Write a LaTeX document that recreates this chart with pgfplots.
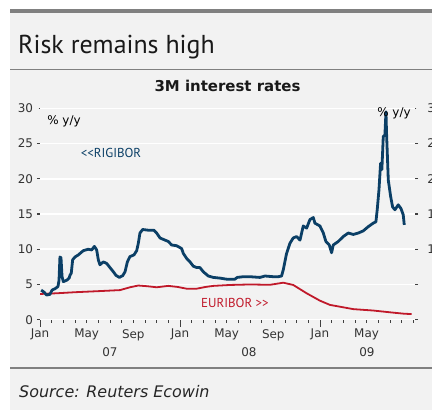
\documentclass[border=0pt]{standalone}
\usepackage{pgfplots}
\pgfplotsset{compat=1.18}
\usepackage{fontspec}
\setmainfont{PT Sans}
\newfontfamily\dejavu{DejaVu Sans}
\definecolor{bg}{HTML}{F2F2F2}
\definecolor{band}{HTML}{808080}
\definecolor{rigi}{HTML}{0B3F66}
\definecolor{euri}{HTML}{C0192A}
\definecolor{tickc}{HTML}{404040}
\pgfplotstableread{
m v
0.1 4.2
0.35 3.9
0.57 3.5
0.86 3.6
1.03 4.2
1.29 4.4
1.54 4.7
1.63 5.6
1.71 8.9
1.8 8.8
1.89 6.1
2.0 5.4
2.29 5.6
2.5 5.9
2.57 6.3
2.68 6.6
2.8 8.5
3.0 8.9
3.29 9.2
3.71 9.8
4.14 10.0
4.43 9.9
4.66 10.4
4.86 9.9
5.0 8.5
5.14 7.8
5.43 8.2
5.71 8.0
6.0 7.4
6.29 6.8
6.51 6.3
6.8 6.0
7.09 6.25
7.29 6.8
7.49 8.2
7.71 8.95
8.06 9.2
8.29 9.8
8.43 10.85
8.57 12.3
8.8 12.8
9.29 12.7
9.77 12.7
10.0 12.3
10.29 11.6
10.71 11.3
11.0 11.1
11.29 10.6
11.71 10.5
12.14 10.1
12.29 9.4
12.57 8.7
12.86 8.2
13.14 7.6
13.43 7.4
13.71 7.4
14.0 6.8
14.43 6.2
14.86 6.0
15.43 5.9
16.0 5.75
16.71 5.75
16.91 6.0
17.43 6.1
18.0 6.1
18.86 6.0
19.29 6.2
20.0 6.1
20.43 6.1
20.71 6.2
20.86 7.1
21.14 9.4
21.43 10.85
21.71 11.6
22.0 11.8
22.29 11.3
22.57 13.3
22.86 13.0
23.14 14.2
23.43 14.5
23.57 13.7
24.0 13.3
24.29 12.3
24.51 11.1
24.8 10.6
25.0 9.5
25.14 10.6
25.57 11.1
26.0 11.8
26.43 12.3
26.86 12.1
27.29 12.3
27.71 12.6
28.14 13.2
28.57 13.7
28.8 13.9
28.91 15.6
29.06 18.4
29.2 22.2
29.31 21.3
29.43 26.0
29.57 26.2
29.66 29.5
29.71 26.5
29.86 19.8
30.06 17.5
30.23 16.0
30.43 15.6
30.71 16.3
30.94 15.8
31.14 14.9
31.23 13.45
}\rigibor
\pgfplotstableread{
m v
0 3.65
1.43 3.75
3 3.9
5 4.05
6.86 4.2
7.71 4.6
8.43 4.85
9.2 4.75
10 4.6
11 4.8
11.8 4.65
12.57 4.4
13.43 4.4
14.2 4.65
14.86 4.8
16.3 4.93
18 5.0
19.71 4.95
20.86 5.25
21.71 4.93
22.86 3.75
24 2.7
24.86 2.1
26.86 1.5
28.57 1.3
30.29 1.0
31.2 0.85
31.86 0.8
}\euribor
\begin{document}
\begin{tikzpicture}[x=1bp,y=1bp]
\fill[white] (0,0) rectangle (432,410);
\fill[bg] (10,0) rectangle (432,396.7);
\fill[band] (10,396.7) rectangle (432,401);
\node[anchor=base west, inner sep=0, font=\fontsize{26}{26}\selectfont, text=black!90] at (18,356.7) {Risk remains high};
\draw[band, line width=1bp] (10,340) -- (432,340);
\node[anchor=base, inner sep=0, font=\dejavu\fontsize{15}{15}\selectfont\bfseries, text=black!90] at (227.5,319) {3M interest rates};
\draw[band, line width=2bp] (10,42) -- (432,42);
\node[anchor=base west, inner sep=0, font=\dejavu\fontsize{16}{16}\selectfont\itshape, text=black!85] at (19,13) {Source: Reuters Ecowin};
\begin{axis}[
  at={(40bp,90.3bp)}, anchor=origin,
  width=375bp, height=211.4bp, scale only axis,
  xmin=0, xmax=32.15, ymin=0, ymax=30,
  axis x line*=bottom, axis y line*=left, axis line style={draw=none},
  xtick={0,4,...,28}, xticklabels={Jan,May,Sep,Jan,May,Sep,Jan,May},
  minor xtick={1,...,32},
  extra x ticks={0,12,24}, extra x tick labels={},
  extra x tick style={major tick length=7bp},
  ytick={0,5,...,30},
  tick align=outside, major tick length=3bp, minor tick length=3bp,
  every tick/.style={tickc, line width=0.8bp},
  y tick style={line width=1.4bp, shorten <=1.6bp},
  grid style={white, line width=1.5bp}, ymajorgrids,
  tick label style={font=\dejavu\fontsize{12}{12}\selectfont, text=black!80},
  /pgf/number format/assume math mode=true,
  yticklabel style={xshift=-0.5bp},
  xticklabel style={yshift=-3bp},
]
\addplot[euri, line width=1.8bp] table[x=m,y=v] {\euribor};
\addplot[rigi, line width=2.8bp, line join=round] table[x=m,y=v] {\rigibor};
\end{axis}
\begin{axis}[
  at={(40bp,90.3bp)}, anchor=origin,
  width=375bp, height=211.4bp, scale only axis,
  xmin=0, xmax=32.15, ymin=0, ymax=30,
  axis y line*=right, axis x line=none, axis line style={draw=none},
  ytick={0,5,...,30},
  tick align=outside, major tick length=3bp,
  every tick/.style={tickc, line width=1.4bp, shorten <=1.6bp},
  tick label style={font=\dejavu\fontsize{12}{12}\selectfont, text=black!80},
  /pgf/number format/assume math mode=true,
  yticklabel style={anchor=east, xshift=28bp},
]
\addplot[draw=none] coordinates {(0,0)};
\end{axis}
\node[font=\dejavu\fontsize{12}{12}\selectfont] at (64,288.3) {\% y/y};
\node[font=\dejavu\fontsize{12}{12}\selectfont] at (394,296.7) {\% y/y};
\node[font=\fontsize{13}{13}\selectfont, text=rigi] at (111,256.7) {<{}<RIGIBOR};
\node[font=\fontsize{13}{13}\selectfont, text=euri] at (235,107.3) {EURIBOR >{}>};
\node[font=\dejavu\fontsize{12}{12}\selectfont, text=black!80] at (110,57.7) {07};
\node[font=\dejavu\fontsize{12}{12}\selectfont, text=black!80] at (249,57.7) {08};
\node[font=\dejavu\fontsize{12}{12}\selectfont, text=black!80] at (367,57.7) {09};
\pgfresetboundingbox
\path[use as bounding box] (0,0) rectangle (432,410);
\end{tikzpicture}
\end{document}
